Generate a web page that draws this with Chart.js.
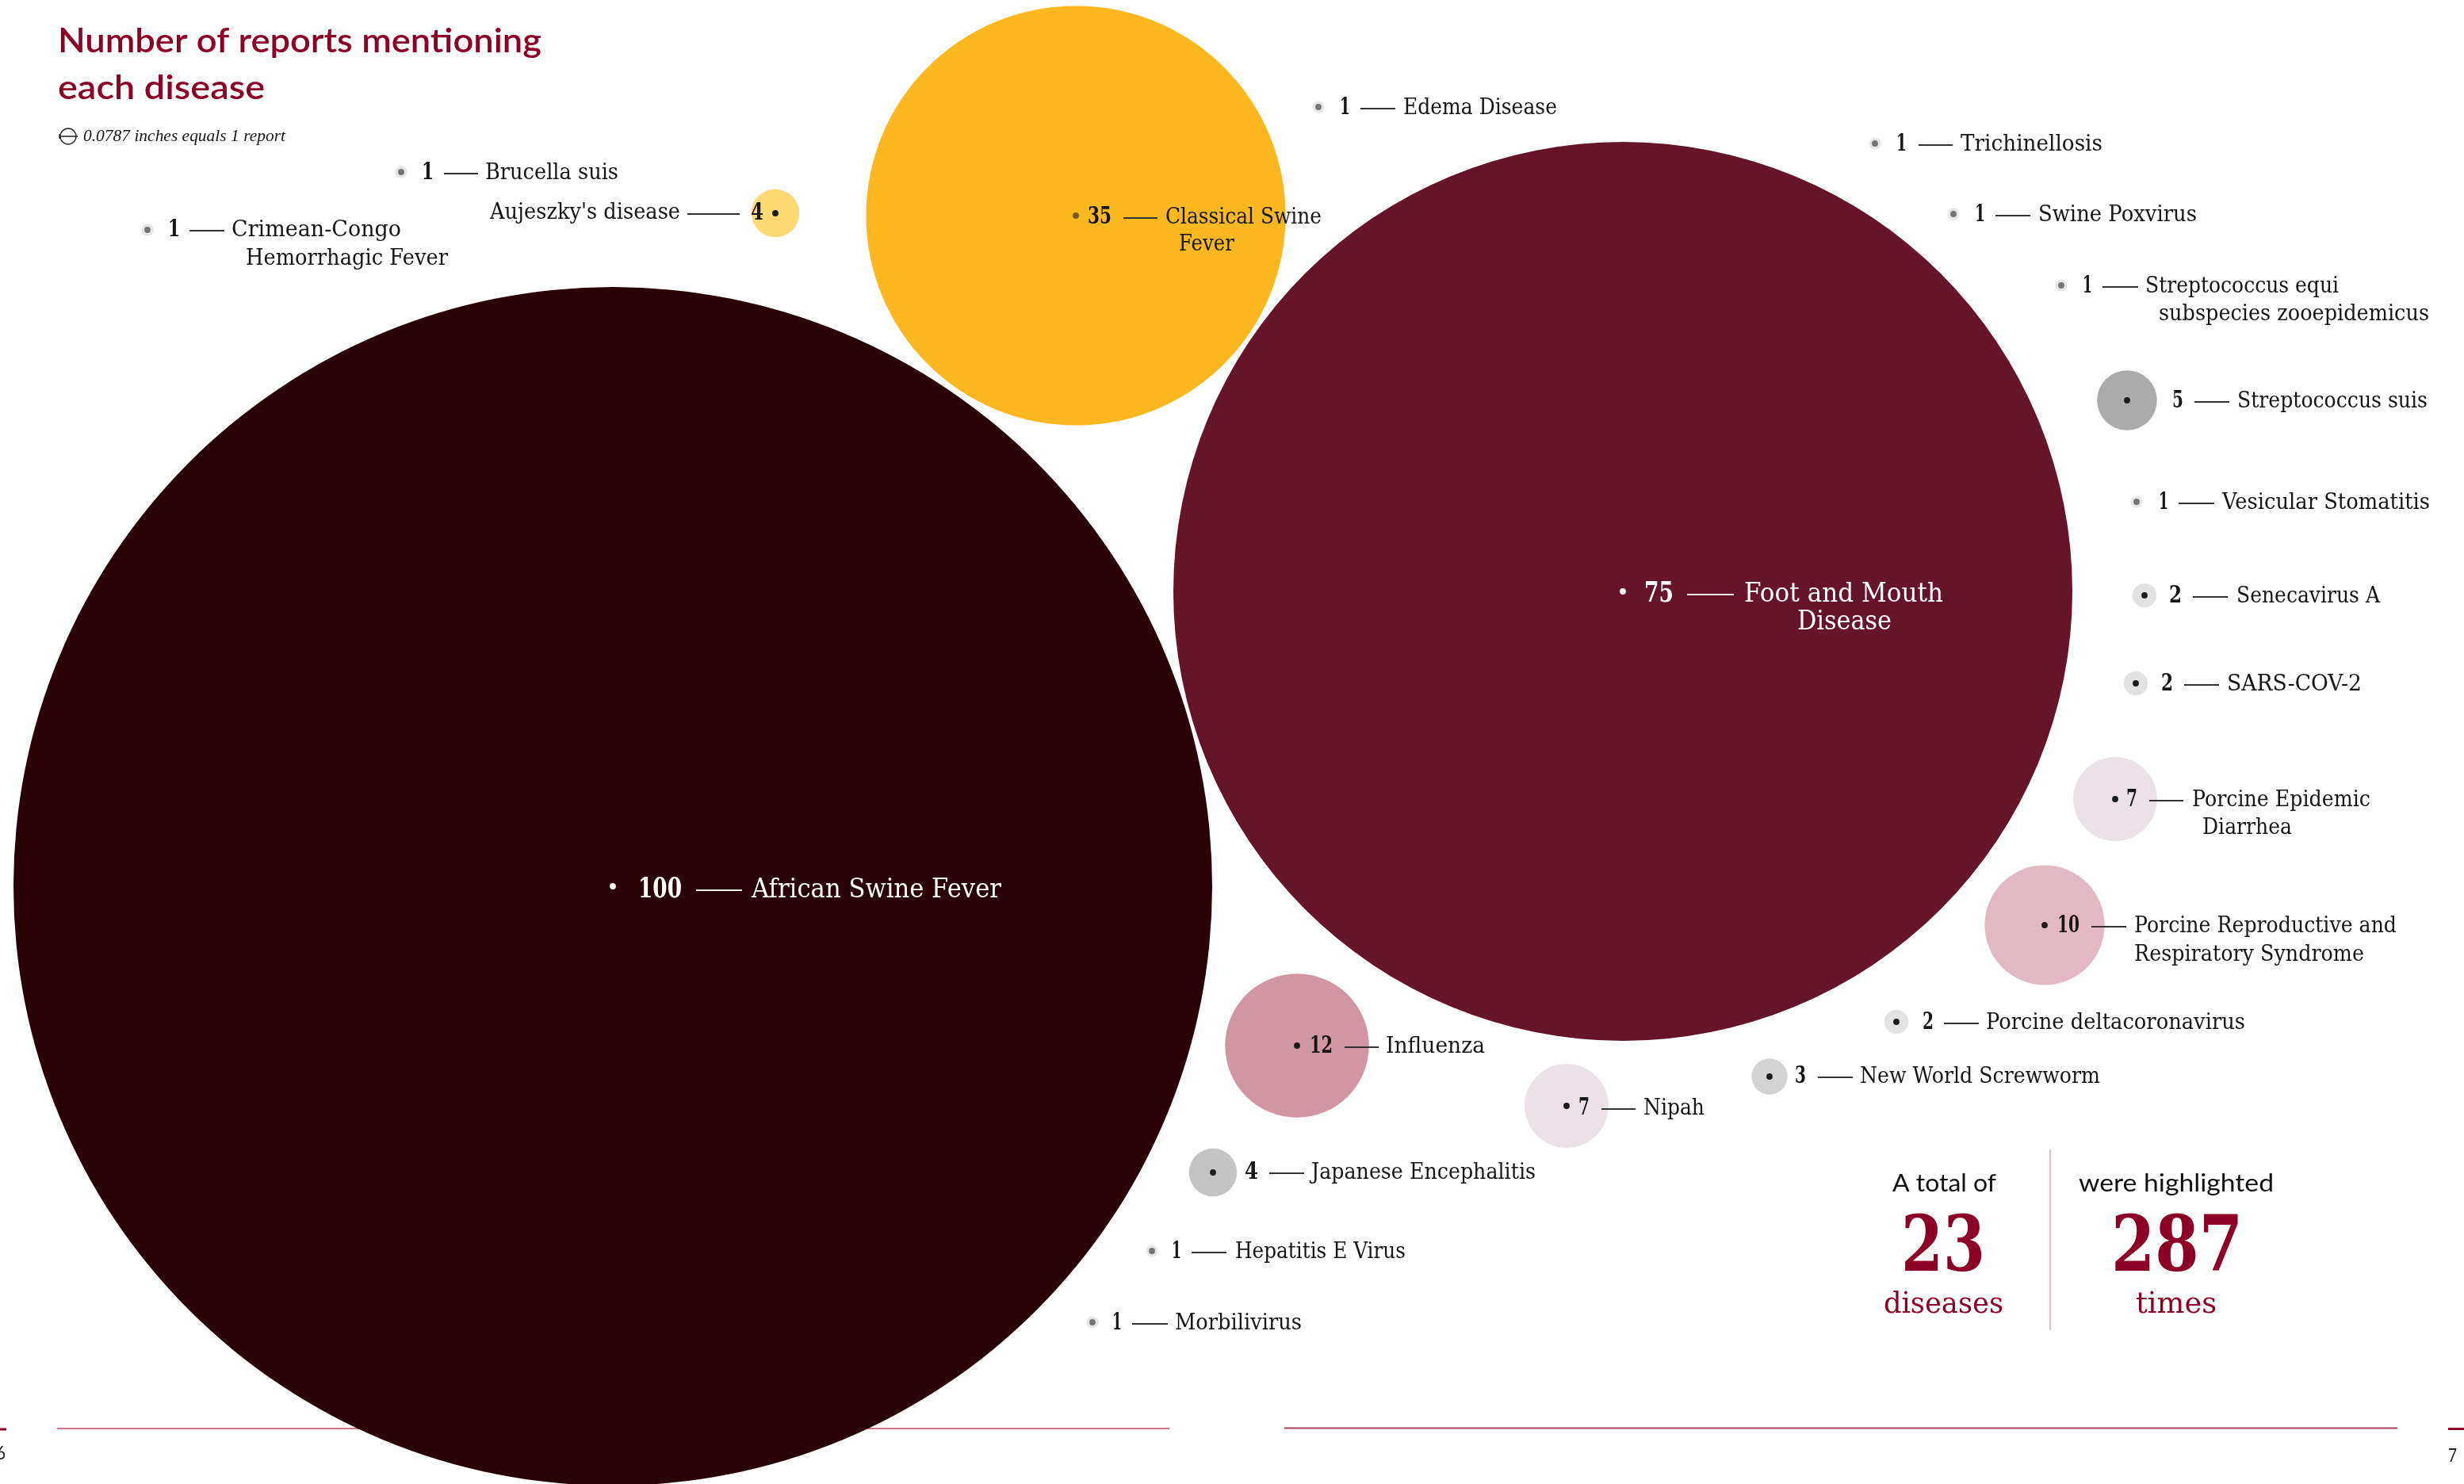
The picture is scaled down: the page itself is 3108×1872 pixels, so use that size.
<!DOCTYPE html>
<html>
<head>
<meta charset="utf-8">
<title>Number of reports mentioning each disease</title>
<script src="https://cdn.jsdelivr.net/npm/chart.js@4/dist/chart.umd.min.js"></script>
<style>
  html, body { margin: 0; padding: 0; background: #ffffff; }
  canvas { display: block; }
</style>
</head>
<body>
<canvas id="chart" width="3108" height="1872"></canvas>
<script>
// Diseases and how many reports mention each one
const diseases = [
  "African Swine Fever", "Foot and Mouth Disease", "Classical Swine Fever", "Aujeszky's disease",
  "Influenza", "Porcine Reproductive and Respiratory Syndrome", "Porcine Epidemic Diarrhea", "Nipah",
  "Streptococcus suis", "Japanese Encephalitis", "New World Screwworm", "Senecavirus A",
  "SARS-COV-2", "Porcine deltacoronavirus", "Crimean-Congo Hemorrhagic Fever", "Brucella suis",
  "Edema Disease", "Trichinellosis", "Swine Poxvirus", "Streptococcus equi subspecies zooepidemicus",
  "Vesicular Stomatitis", "Hepatitis E Virus", "Morbilivirus"
];
const reports = [100, 75, 35, 4, 12, 10, 7, 7, 5, 4, 3, 2, 2, 2, 1, 1, 1, 1, 1, 1, 1, 1, 1];

// Where the packing puts each bubble, in scale units
const packX = [773, 2047, 1357, 978, 1636, 2579, 2668, 1976, 2683, 1530, 2232, 2705, 2694, 2392, 186, 506, 1663, 2365, 2464, 2600, 2695, 1453, 1378];
const packY = [1118, 746, 272, 269, 1319, 1167, 1008, 1395, 505, 1479, 1358, 751, 862, 1289, 290, 217, 135, 181, 270, 360, 633, 1578, 1668];

// One report is a fixed radius, so sizes compare linearly
const radiusPerReport = 7.56;

const bubbleColours = ["#280005", "#66142a", "#fdb71f", "#ffda73", "#d195a3", "#e2b9c3", "#ebe1e6", "#ebe1e6",
  "#ababab", "#c4c4c4", "#d3d3d3", "#e2e2e2", "#e2e2e2", "#e2e2e2",
  "#e6e6e6", "#e6e6e6", "#e6e6e6", "#e6e6e6", "#e6e6e6", "#e6e6e6", "#e6e6e6", "#e6e6e6", "#e6e6e6"];
const dotColours = ["#ffffff", "#ffffff", "#7a5a14", "#1c1c1c", "#1c1c1c", "#1c1c1c", "#1c1c1c", "#1c1c1c",
  "#1c1c1c", "#1c1c1c", "#1c1c1c", "#1c1c1c", "#1c1c1c", "#1c1c1c",
  "#747474", "#747474", "#747474", "#747474", "#747474", "#747474", "#747474", "#747474", "#747474"];

// How each name breaks across lines
const nameLines = [
  ["African Swine Fever"], ["Foot and Mouth", "Disease"], ["Classical Swine", "Fever"], ["Aujeszky's disease"],
  ["Influenza"], ["Porcine Reproductive and", "Respiratory Syndrome"], ["Porcine Epidemic", "Diarrhea"], ["Nipah"],
  ["Streptococcus suis"], ["Japanese Encephalitis"], ["New World Screwworm"], ["Senecavirus A"],
  ["SARS-COV-2"], ["Porcine deltacoronavirus"], ["Crimean-Congo", "Hemorrhagic Fever"], ["Brucella suis"],
  ["Edema Disease"], ["Trichinellosis"], ["Swine Poxvirus"], ["Streptococcus equi", "subspecies zooepidemicus"],
  ["Vesicular Stomatitis"], ["Hepatitis E Virus"], ["Morbilivirus"]
];

// Label placement: count span, leader span, text centre line, then one [left, right, centre] per name line
const labelPlacement = [
  { num: [805, 860],   rule: [878, 936],   y: 1119, lines: [[948, 1263, 1119]], large: true },
  { num: [2074, 2111], rule: [2128, 2187], y: 746,  lines: [[2200, 2451, 746], [2267, 2386, 781]], large: true },
  { num: [1372, 1402], rule: [1417, 1460], y: 272,  lines: [[1470, 1667, 272], [1487, 1557, 306]] },
  { num: [947, 963],   rule: [867, 933],   y: 267,  lines: [[618, 858, 266]] },
  { num: [1652, 1681], rule: [1696, 1739], y: 1318, lines: [[1748, 1873, 1318]] },
  { num: [2595, 2623], rule: [2638, 2682], y: 1166, lines: [[2692, 3023, 1166], [2692, 2982, 1202]] },
  { num: [2682, 2696], rule: [2711, 2754], y: 1007, lines: [[2765, 2990, 1007], [2778, 2891, 1042]] },
  { num: [1991, 2005], rule: [2020, 2063], y: 1396, lines: [[2073, 2150, 1396]] },
  { num: [2740, 2754], rule: [2768, 2812], y: 504,  lines: [[2822, 3062, 504]] },
  { num: [1570, 1587], rule: [1601, 1645], y: 1477, lines: [[1654, 1937, 1477]] },
  { num: [2264, 2278], rule: [2293, 2337], y: 1356, lines: [[2346, 2649, 1356]] },
  { num: [2736, 2752], rule: [2766, 2810], y: 750,  lines: [[2821, 3002, 750]] },
  { num: [2726, 2741], rule: [2755, 2799], y: 861,  lines: [[2809, 2979, 861]] },
  { num: [2425, 2439], rule: [2452, 2496], y: 1288, lines: [[2505, 2832, 1288]] },
  { num: [212, 227],   rule: [239, 283],   y: 288,  lines: [[292, 506, 288], [310, 565, 324]] },
  { num: [532, 547],   rule: [560, 603],   y: 216,  lines: [[612, 780, 216]] },
  { num: [1690, 1703], rule: [1716, 1760], y: 134,  lines: [[1770, 1964, 134]] },
  { num: [2392, 2405], rule: [2420, 2463], y: 180,  lines: [[2473, 2652, 180]] },
  { num: [2491, 2504], rule: [2517, 2561], y: 269,  lines: [[2571, 2771, 269]] },
  { num: [2627, 2639], rule: [2652, 2697], y: 359,  lines: [[2706, 2950, 359], [2723, 3064, 394]] },
  { num: [2723, 2735], rule: [2748, 2793], y: 632,  lines: [[2803, 3065, 632]] },
  { num: [1478, 1490], rule: [1503, 1547], y: 1577, lines: [[1558, 1773, 1577]] },
  { num: [1403, 1415], rule: [1428, 1473], y: 1667, lines: [[1482, 1642, 1667]] }
];

const crimson = "#8d0025";
const serif = '"DejaVu Serif"';
const sans = 'Lato';

// Fits a string between two x positions on a given baseline
function fitText(ctx, text, left, right, baseline) {
  const w = ctx.measureText(text).width;
  ctx.save();
  ctx.textAlign = "left";
  ctx.textBaseline = "alphabetic";
  ctx.translate(left, baseline);
  ctx.scale((right - left) / w, 1);
  ctx.fillText(text, 0, 0);
  ctx.restore();
}

function hLine(ctx, x0, x1, y, colour, width) {
  ctx.strokeStyle = colour;
  ctx.lineWidth = width;
  ctx.beginPath();
  ctx.moveTo(x0, y);
  ctx.lineTo(x1, y);
  ctx.stroke();
}

// Page furniture sits underneath the bubbles
const pageFrame = {
  id: "pageFrame",
  beforeDatasetsDraw(chart) {
    const ctx = chart.ctx;
    ctx.save();
    hLine(ctx, 72, 1475, 1802, "#c87a8c", 2);
    hLine(ctx, 1620, 3024, 1801.5, "#a5425c", 2);
    hLine(ctx, 0, 8, 1803, crimson, 3);
    hLine(ctx, 3088, 3108, 1802.5, crimson, 3);
    ctx.strokeStyle = "#e6bcc8";
    ctx.lineWidth = 2;
    ctx.beginPath();
    ctx.moveTo(2586, 1450);
    ctx.lineTo(2586, 1678);
    ctx.stroke();
    ctx.restore();
  }
};

// Counts, leaders, names, headline and totals are drawn over the bubbles
const annotations = {
  id: "annotations",
  afterDatasetsDraw(chart) {
    const ctx = chart.ctx;
    ctx.save();

    diseases.forEach((name, i) => {
      const p = labelPlacement[i];
      const ink = p.large ? "#ffffff" : "#161616";
      const nameSize = p.large ? 33 : 27;
      const shift = p.large ? 13 : 10;
      ctx.fillStyle = ink;
      ctx.font = `bold ${p.large ? 36 : 29}px ${serif}`;
      fitText(ctx, String(reports[i]), p.num[0], p.num[1], p.y + shift);
      hLine(ctx, p.rule[0], p.rule[1], p.y + (p.large ? 4 : 3), ink === "#161616" ? "#333333" : "#f4f0f1", 2);
      ctx.fillStyle = ink;
      ctx.font = `${nameSize}px ${serif}`;
      nameLines[i].forEach((line, k) => {
        const [l, r, c] = p.lines[k];
        fitText(ctx, line, l, r, c + shift);
      });
    });

    // Headline
    ctx.fillStyle = crimson;
    ctx.font = `600 42px ${sans}`;
    fitText(ctx, "Number of reports mentioning", 73, 683, 66);
    fitText(ctx, "each disease", 73, 334, 125);

    // Size key
    ctx.strokeStyle = "#222222";
    ctx.lineWidth = 1.3;
    ctx.beginPath();
    ctx.arc(86, 172, 10, 0, Math.PI * 2);
    ctx.moveTo(75, 172);
    ctx.lineTo(98, 172);
    ctx.moveTo(75, 169);
    ctx.lineTo(75, 175);
    ctx.stroke();
    ctx.fillStyle = "#161616";
    ctx.font = 'italic 22px "Liberation Serif"';
    fitText(ctx, "0.0787 inches equals 1 report", 105, 360, 178);

    // Totals
    ctx.fillStyle = "#111111";
    ctx.font = `400 31px ${sans}`;
    fitText(ctx, "A total of", 2387, 2518, 1503);
    fitText(ctx, "were highlighted", 2622, 2868, 1503);
    ctx.fillStyle = crimson;
    ctx.font = `bold 98px ${serif}`;
    fitText(ctx, "23", 2398, 2504, 1603);
    fitText(ctx, "287", 2663, 2829, 1603);
    ctx.font = `38px ${serif}`;
    fitText(ctx, "diseases", 2376, 2527, 1656);
    fitText(ctx, "times", 2694, 2796, 1656);

    // Page numbers
    ctx.fillStyle = "#222222";
    ctx.font = `400 23px ${sans}`;
    fitText(ctx, "6", -5, 7, 1841);
    fitText(ctx, "7", 3088, 3099, 1844);

    ctx.restore();
  }
};

new Chart(document.getElementById("chart"), {
  type: "bubble",
  data: {
    datasets: [
      {
        label: "Reports",
        data: diseases.map((d, i) => ({ x: packX[i], y: packY[i], r: reports[i] * radiusPerReport })),
        backgroundColor: bubbleColours,
        borderWidth: 0,
        order: 2
      },
      {
        label: "Centres",
        data: diseases.map((d, i) => ({ x: packX[i], y: packY[i], r: 3.9 })),
        backgroundColor: dotColours,
        borderWidth: 0,
        order: 1
      }
    ]
  },
  options: {
    responsive: false,
    animation: false,
    devicePixelRatio: 1,
    events: [],
    layout: { padding: 0, autoPadding: false },
    plugins: { legend: { display: false }, tooltip: { enabled: false }, title: { display: false } },
    scales: {
      x: { type: "linear", min: 0, max: 3108, display: false },
      y: { type: "linear", min: 0, max: 1872, reverse: true, display: false }
    }
  },
  plugins: [pageFrame, annotations]
});
</script>
</body>
</html>
